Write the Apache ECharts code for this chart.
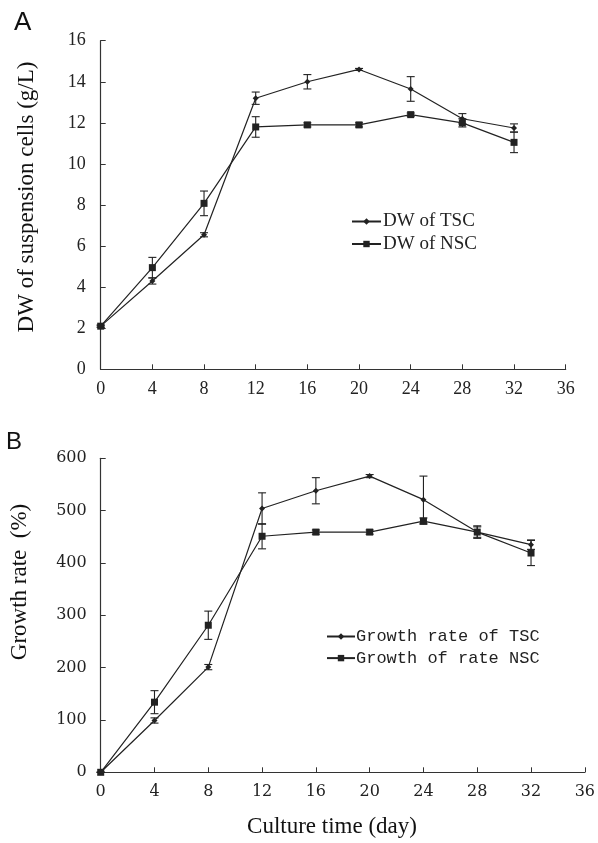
<!DOCTYPE html>
<html>
<head>
<meta charset="utf-8">
<script src="https://cdn.jsdelivr.net/npm/echarts@6/dist/echarts.min.js"></script>
<style>
html, body { margin: 0; padding: 0; background: #fff; }
#main { width: 598px; height: 843px; }
</style>
</head>
<body>
<div id="main"></div>
<script>
// culture days
var days = [0, 4, 8, 12, 16, 20, 24, 28, 32];
var xTicks = [0, 4, 8, 12, 16, 20, 24, 28, 32, 36];
// A: dry weight (g/L)
var dwTSC = [2.1, 4.3, 6.55, 13.2, 14.0, 14.6, 13.65, 12.2, 11.75];
var dwTSCErr = [0.05, 0.15, 0.1, 0.3, 0.35, 0.05, 0.6, 0.25, 0.2];
var dwNSC = [2.1, 4.95, 8.08, 11.8, 11.9, 11.9, 12.4, 12.0, 11.05];
var dwNSCErr = [0.05, 0.5, 0.6, 0.5, 0.1, 0.1, 0.08, 0.2, 0.5];
// B: growth rate (%)
var grTSC = [0, 99, 201, 504, 538, 566, 521, 459, 435];
var grTSCErr = [0, 5, 5, 30, 25, 3, 45, 12, 9];
var grNSC = [0, 134, 281, 451, 459, 459, 480, 459, 419];
var grNSCErr = [0, 22, 27, 24, 4, 4, 6, 10, 24];

var myChart;
var lineColor = '#222';

// 把数值和误差拼成折线/误差棒数据
function pairs(vals) {
	var out = [];
	for (var i = 0; i < vals.length; i++) out.push([days[i], vals[i]]);
	return out;
}
function errData(vals, errs) {
	var out = [];
	for (var i = 0; i < vals.length; i++) out.push([days[i], vals[i] - errs[i], vals[i] + errs[i]]);
	return out;
}
function errRender(params, api) {
	var x = api.value(0);
	var lo = api.coord([x, api.value(1)]);
	var hi = api.coord([x, api.value(2)]);
	var w = 4;
	var st = { stroke: lineColor, lineWidth: 1.1 };
	return {
		type: 'group',
		children: [
			{ type: 'line', shape: { x1: lo[0], y1: lo[1], x2: hi[0], y2: hi[1] }, style: st },
			{ type: 'line', shape: { x1: lo[0] - w, y1: lo[1], x2: lo[0] + w, y2: lo[1] }, style: st },
			{ type: 'line', shape: { x1: hi[0] - w, y1: hi[1], x2: hi[0] + w, y2: hi[1] }, style: st }
		]
	};
}
function lineSeries(name, idx, vals, sym, size) {
	return {
		name: name,
		type: 'line',
		xAxisIndex: idx,
		yAxisIndex: idx,
		data: pairs(vals),
		symbol: sym,
		symbolSize: size,
		showAllSymbol: true,
		z: 3,
		lineStyle: { color: lineColor, width: 1.2 },
		itemStyle: { color: lineColor },
		emphasis: { disabled: true }
	};
}
function errSeries(idx, vals, errs) {
	return {
		type: 'custom',
		xAxisIndex: idx,
		yAxisIndex: idx,
		data: errData(vals, errs),
		renderItem: errRender,
		encode: { x: 0, y: [1, 2] },
		z: 2,
		silent: true
	};
}
function xAxisCfg(idx, font, size, margin) {
	return {
		type: 'value',
		gridIndex: idx,
		min: 0,
		max: 36,
		interval: 4,
		axisLine: { lineStyle: { color: '#333', width: 1.2 } },
		axisTick: { inside: true, length: 5, lineStyle: { color: '#333' } },
		axisLabel: { color: '#222', fontFamily: font, fontSize: size, margin: margin, showMaxLabel: true },
		splitLine: { show: false }
	};
}
function yAxisCfg(idx, max, interval, font, size, margin) {
	return {
		type: 'value',
		gridIndex: idx,
		min: 0,
		max: max,
		interval: interval,
		axisLine: { show: true, lineStyle: { color: '#333', width: 1.2 } },
		axisTick: { show: true, inside: true, length: 5, lineStyle: { color: '#333' } },
		axisLabel: { color: '#222', fontFamily: font, fontSize: size, margin: margin },
		splitLine: { show: false }
	};
}

function eChartInit() {
	myChart = echarts.init(document.getElementById('main'));
	var option = {
		backgroundColor: '#fff',
		animation: false,
		grid: [
			{ left: 100.7, right: 32.3, top: 40.7, bottom: 473.7 },
			{ left: 100.7, right: 11.3, top: 458.3, bottom: 70.7 }
		],
		xAxis: [
			xAxisCfg(0, 'Liberation Serif', 18, 11),
			xAxisCfg(1, 'DejaVu Serif', 16, 12)
		],
		yAxis: [
			yAxisCfg(0, 16, 2, 'Liberation Serif', 18, 15),
			yAxisCfg(1, 600, 100, 'DejaVu Serif', 16, 14)
		],
		legend: [
			{
				data: ['DW of TSC', 'DW of NSC'],
				orient: 'vertical',
				left: 346,
				top: 207,
				itemWidth: 29,
				itemHeight: 8,
				itemGap: 3.5,
				textStyle: { fontFamily: 'Liberation Serif', fontSize: 19, color: '#222', padding: [0, 0, 0, -3] }
			},
			{
				data: ['Growth rate of TSC', 'Growth of rate NSC'],
				orient: 'vertical',
				left: 321,
				top: 623,
				itemWidth: 28,
				itemHeight: 8,
				itemGap: 4.6,
				textStyle: { fontFamily: 'Liberation Mono', fontSize: 17, color: '#222', padding: [0, 0, 0, -4] }
			}
		],
		graphic: [
			{ type: 'text', left: 14, top: 10, style: { text: 'A', font: '26px "Liberation Sans"', fill: '#111' } },
			{ type: 'text', left: 6, top: 430, style: { text: 'B', font: '24px "Liberation Sans"', fill: '#111' } },
			{ type: 'text', x: 27, y: 197, rotation: Math.PI / 2, style: { text: 'DW of suspension cells (g/L)', font: '23px "Liberation Serif"', fill: '#111', align: 'center', verticalAlign: 'middle' } },
			{ type: 'text', x: 20, y: 582, rotation: Math.PI / 2, style: { text: 'Growth rate  (%)', font: '23px "Liberation Serif"', fill: '#111', align: 'center', verticalAlign: 'middle' } },
			{ type: 'text', x: 332, y: 827, style: { text: 'Culture time (day)', font: '23px "Liberation Serif"', fill: '#111', align: 'center', verticalAlign: 'middle' } }
		],
		series: [
			errSeries(0, dwTSC, dwTSCErr),
			errSeries(0, dwNSC, dwNSCErr),
			lineSeries('DW of TSC', 0, dwTSC, 'diamond', 6),
			lineSeries('DW of NSC', 0, dwNSC, 'rect', 7),
			errSeries(1, grTSC, grTSCErr),
			errSeries(1, grNSC, grNSCErr),
			lineSeries('Growth rate of TSC', 1, grTSC, 'diamond', 6),
			lineSeries('Growth of rate NSC', 1, grNSC, 'rect', 7)
		]
	};
	myChart.setOption(option);
	window.onresize = myChart.resize;
}
eChartInit();
</script>
</body>
</html>
